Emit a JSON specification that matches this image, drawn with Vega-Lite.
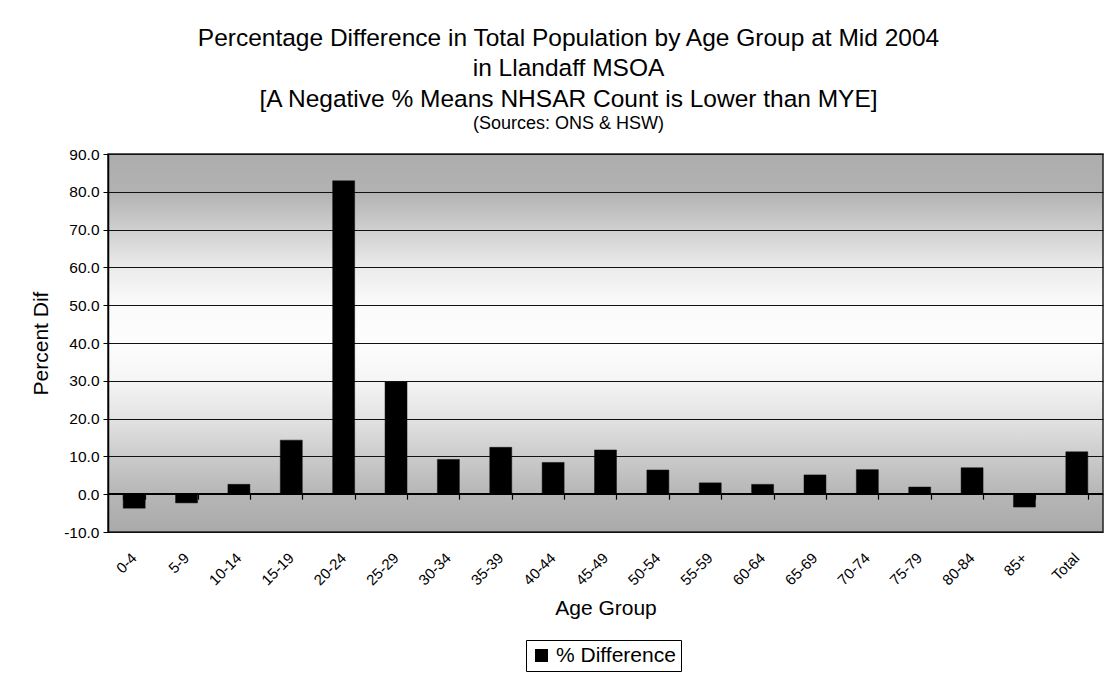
{
  "$schema": "https://vega.github.io/schema/vega-lite/v6.json",
  "autosize": "none",
  "padding": {"left": 108, "top": 154, "right": 2, "bottom": 142},
  "width": 995,
  "height": 378,
  "background": "white",
  "title": {
    "text": ["Percentage Difference in Total Population by Age Group at Mid 2004", "in Llandaff MSOA", "[A Negative % Means NHSAR Count is Lower than MYE]"],
    "subtitle": "(Sources: ONS & HSW)",
    "font": "Liberation Sans",
    "fontSize": 24.5,
    "fontWeight": "normal",
    "color": "#000000",
    "lineHeight": 30.5,
    "subtitleFont": "Liberation Sans",
    "subtitleFontSize": 18,
    "subtitleColor": "#000000",
    "subtitlePadding": 3,
    "anchor": "middle",
    "frame": "group",
    "dx": -37,
    "offset": 13
  },
  "data": {
    "values": [
      {"age": "0-4", "pct": -3.7},
      {"age": "5-9", "pct": -2.3},
      {"age": "10-14", "pct": 2.6},
      {"age": "15-19", "pct": 14.3},
      {"age": "20-24", "pct": 82.9},
      {"age": "25-29", "pct": 29.7},
      {"age": "30-34", "pct": 9.2},
      {"age": "35-39", "pct": 12.4},
      {"age": "40-44", "pct": 8.4},
      {"age": "45-49", "pct": 11.7},
      {"age": "50-54", "pct": 6.4},
      {"age": "55-59", "pct": 3.0},
      {"age": "60-64", "pct": 2.6},
      {"age": "65-69", "pct": 5.1},
      {"age": "70-74", "pct": 6.5},
      {"age": "75-79", "pct": 1.9},
      {"age": "80-84", "pct": 7.0},
      {"age": "85+", "pct": -3.4},
      {"age": "Total", "pct": 11.2}
    ]
  },
  "layer": [
    {
      "mark": {"type": "bar", "fill": "#000000", "stroke": "#111111", "strokeWidth": 0.5},
      "encoding": {
        "x": {
          "field": "age", "type": "nominal", "sort": null,
          "scale": {"paddingInner": 0.58, "paddingOuter": 0.29},
          "axis": {
            "orient": "bottom",
            "title": "Age Group",
            "titleFont": "Liberation Sans", "titleFontSize": 21, "titleFontWeight": "normal", "titleColor": "#000000",
            "titlePadding": 10,
            "labelAngle": -45, "labelAlign": "right", "labelBaseline": "middle",
            "labelFont": "Liberation Sans", "labelFontSize": 15, "labelColor": "#000000",
            "labelPadding": 23,
            "labelOverlap": false,
            "ticks": false, "domain": false, "grid": false
          }
        },
        "y": {
          "field": "pct", "type": "quantitative",
          "scale": {"domain": [-10, 90], "nice": false, "zero": false},
          "axis": {
            "title": "Percent Dif",
            "titleFont": "Liberation Sans", "titleFontSize": 21, "titleFontWeight": "normal", "titleColor": "#000000",
            "titlePadding": 12,
            "values": [-10, 0, 10, 20, 30, 40, 50, 60, 70, 80, 90],
            "tickCount": 20,
            "labelExpr": "replace(format(datum.value, '.1f'), '\u2212', '-')",
            "labelOverlap": false,
            "labelFont": "Liberation Sans", "labelFontSize": 15.5, "labelColor": "#000000",
            "labelPadding": 4,
            "tickSize": 5, "tickColor": "#000000",
            "domainColor": "#000000", "domainWidth": 1.5,
            "grid": true, "gridColor": "#111111", "gridWidth": 1
          }
        },
        "color": {
          "datum": "% Difference",
          "scale": {"range": ["#000000"]},
          "legend": {
            "title": null,
            "orient": "none",
            "legendX": 418,
            "legendY": 486,
            "direction": "horizontal",
            "symbolType": "square",
            "symbolSize": 169,
            "symbolStrokeWidth": 0,
            "labelFont": "Liberation Sans",
            "labelFontSize": 21,
            "labelColor": "#000000",
            "labelOffset": 4,
            "padding": 5,
            "strokeColor": "#000000",
            "fillColor": "#ffffff"
          }
        }
      }
    },
    {
      "mark": {"type": "rule", "color": "#000000", "strokeWidth": 1.5},
      "encoding": {"y": {"datum": 0}}
    },
    {
      "mark": {"type": "rule", "opacity": 0},
      "encoding": {
        "x": {
          "field": "age", "type": "nominal", "sort": null,
          "axis": {
            "orient": "bottom",
            "title": null,
            "labels": false,
            "domain": false,
            "grid": false,
            "ticks": true,
            "tickBand": "extent",
            "tickSize": 5,
            "tickColor": "#000000",
            "tickWidth": 1.2,
            "offset": -37.8
          }
        }
      }
    }
  ],
  "resolve": {"axis": {"x": "independent"}},
  "config": {
    "view": {
      "stroke": "#222222",
      "strokeWidth": 1.5,
      "fill": {
        "gradient": "linear",
        "x1": 0, "y1": 0, "x2": 0, "y2": 1,
        "stops": [
          {"offset": 0, "color": "#adadad"},
          {"offset": 0.1, "color": "#b2b2b2"},
          {"offset": 0.2, "color": "#cfcfcf"},
          {"offset": 0.3, "color": "#ebebeb"},
          {"offset": 0.4, "color": "#fbfbfb"},
          {"offset": 0.5, "color": "#fdfdfd"},
          {"offset": 0.6, "color": "#f5f5f5"},
          {"offset": 0.7, "color": "#e3e3e3"},
          {"offset": 0.8, "color": "#cbcbcb"},
          {"offset": 0.9, "color": "#b6b6b6"},
          {"offset": 1, "color": "#aaaaaa"}
        ]
      }
    }
  }
}
